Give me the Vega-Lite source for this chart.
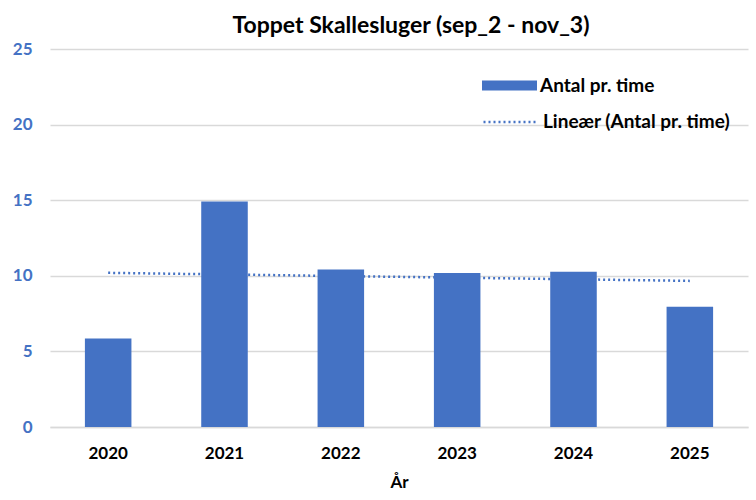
{
  "$schema": "https://vega.github.io/schema/vega-lite/v6.json",
  "width": 698,
  "height": 378,
  "autosize": {"type": "none"},
  "padding": {"left": 50, "top": 49, "right": 8, "bottom": 73},
  "background": "white",
  "title": {
    "text": "Toppet Skallesluger (sep_2 - nov_3)",
    "font": "Lato",
    "fontSize": 23,
    "fontWeight": "bold",
    "color": "#000000",
    "anchor": "middle",
    "offset": 2,
    "dx": 12
  },
  "data": {
    "values": [
      {"year": 2020, "Antal": 5.85},
      {"year": 2021, "Antal": 14.92},
      {"year": 2022, "Antal": 10.42},
      {"year": 2023, "Antal": 10.18},
      {"year": 2024, "Antal": 10.26},
      {"year": 2025, "Antal": 7.95}
    ]
  },
  "layer": [
    {
      "transform": [{"regression": "Antal", "on": "year"}],
      "mark": {"type": "line", "color": "#4472C4", "strokeWidth": 2.5},
      "encoding": {
        "x": {"field": "year", "type": "quantitative", "scale": {"domain": [2019.5, 2025.5], "nice": false, "zero": false}, "axis": null},
        "y": {"field": "Antal", "type": "quantitative"},
        "strokeDash": {
          "datum": "Lineær (Antal pr. time)",
          "scale": {"range": [[2, 3]]},
          "legend": {
            "title": null,
            "orient": "none",
            "legendX": 432,
            "legendY": 44,
            "symbolType": "stroke",
            "symbolSize": 3025,
            "symbolStrokeColor": "#4472C4",
            "symbolStrokeWidth": 2.5,
            "symbolDash": [2, 3],
            "labelFont": "Lato",
            "labelFontSize": 19,
            "labelFontWeight": "bold",
            "labelColor": "#000000",
            "labelOffset": 3,
            "labelLimit": 300
          }
        }
      }
    },
    {
      "mark": {"type": "bar"},
      "encoding": {
        "x": {
          "field": "year",
          "type": "ordinal",
          "scale": {"paddingInner": 0.6, "paddingOuter": 0.3},
          "axis": {
            "title": "År",
            "labelAngle": 0,
            "labelFont": "Lato",
            "labelFontSize": 17,
            "labelFontWeight": "bold",
            "labelColor": "#000000",
            "labelPadding": 18,
            "ticks": false,
            "domain": true,
            "domainColor": "#D9D9D9",
            "domainWidth": 1.5,
            "grid": false,
            "titleFont": "Lato",
            "titleFontSize": 17,
            "titleFontWeight": "bold",
            "titleColor": "#000000",
            "titlePadding": 13
          }
        },
        "y": {
          "field": "Antal",
          "type": "quantitative",
          "scale": {"domain": [0, 25], "nice": false},
          "axis": {
            "title": null,
            "values": [0, 5, 10, 15, 20, 25],
            "labelFont": "Lato",
            "labelFontSize": 17,
            "labelFontWeight": "bold",
            "labelColor": "#4472C4",
            "labelPadding": 18,
            "ticks": false,
            "domain": false,
            "grid": true,
            "gridColor": "#D9D9D9",
            "gridWidth": 1.5
          }
        },
        "color": {
          "datum": "Antal pr. time",
          "scale": {"range": ["#4472C4"]},
          "legend": {
            "title": null,
            "orient": "none",
            "legendX": 432,
            "legendY": 9,
            "symbolType": "M-1,-0.18H1V0.18H-1Z",
            "symbolSize": 3025,
            "symbolOpacity": 1,
            "symbolStrokeWidth": 0,
            "labelFont": "Lato",
            "labelFontSize": 19,
            "labelFontWeight": "bold",
            "labelColor": "#000000",
            "labelOffset": 3,
            "labelLimit": 300
          }
        }
      }
    }
  ],
  "resolve": {"scale": {"x": "independent"}},
  "config": {"view": {"stroke": null}}
}
